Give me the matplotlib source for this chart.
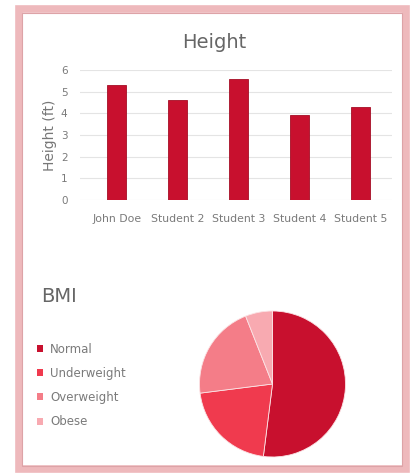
""" Height bars and BMI pie on a pink card """

import matplotlib.pyplot as plt
from matplotlib.patches import Rectangle, Patch

# data
students = ["John Doe", "Student 2", "Student 3", "Student 4", "Student 5"]
heights = [5.3, 4.6, 5.6, 3.9, 4.3]
bmi_labels = ["Normal", "Underweight", "Overweight", "Obese"]
bmi_values = [52, 21, 21, 6]
bmi_colors = ["#C8102E", "#F03A4E", "#F47D88", "#F8AAB1"]

W, H = 411, 473
fig = plt.figure(figsize=(W / 100, H / 100), dpi=100)
fig.patch.set_facecolor("white")


def box(x0, y0, x1, y1):
    # pixel box (top-left origin) -> figure fractions
    return [x0 / W, 1 - y1 / H, (x1 - x0) / W, (y1 - y0) / H]


# card frame
fig.patches.append(Rectangle((18.5 / W, 1 - 469 / H), 387 / W, 460 / H,
                             transform=fig.transFigure, fill=False,
                             edgecolor="#EEB9BC", linewidth=5.5))
fig.patches.append(Rectangle((22 / W, 1 - 465.5 / H), 380 / W, 452.5 / H,
                             transform=fig.transFigure, fill=False,
                             edgecolor="#DDA3A7", linewidth=0.8))

# bar chart
ax = fig.add_axes(box(80, 70, 392, 200))
x = range(len(students))
ax.bar(x, heights, width=0.31, color="#C8102E", edgecolor="#A50E25",
       linewidth=0.6, zorder=3)
ax.set_xlim(-0.6, 4.51)
ax.set_ylim(0, 6)
ax.set_yticks(range(7))
ax.set_xticks(list(x))
ax.set_xticklabels(students)
ax.grid(axis="y", color="#E4E4E4", linewidth=0.8, zorder=0)
for s in ax.spines.values():
    s.set_visible(False)
ax.tick_params(length=0, labelsize=7.5, labelcolor="#7A7A7A")
ax.tick_params(axis="x", labelsize=7.8, pad=10)
ax.tick_params(axis="y", pad=9)
ax.set_ylabel("Height (ft)", fontsize=10, color="#777777", labelpad=3)
fig.text(214 / W, 1 - 42 / H, "Height", ha="center", va="center",
         fontsize=14, color="#666666")

# pie chart
pax = fig.add_axes(box(199.5, 311, 345.5, 457))
pax.pie(bmi_values, colors=bmi_colors, startangle=90, counterclock=False,
        radius=1, wedgeprops=dict(linewidth=0.6, edgecolor="#FBE3E5"))
pax.set_xlim(-1, 1)
pax.set_ylim(-1, 1)
pax.set_aspect("equal")

fig.text(41 / W, 1 - 297 / H, "BMI", ha="left", va="center",
         fontsize=14, color="#666666")
handles = [Patch(facecolor=c, edgecolor="none") for c in bmi_colors]
fig.legend(handles, bmi_labels, loc="upper left",
           bbox_to_anchor=(26 / W, 1 - 332 / H), frameon=False,
           fontsize=8.5, labelcolor="#7A7A7A", handlelength=0.55,
           handleheight=0.55, handletextpad=0.6, labelspacing=0.95)

plt.savefig("out.png", dpi=100)
